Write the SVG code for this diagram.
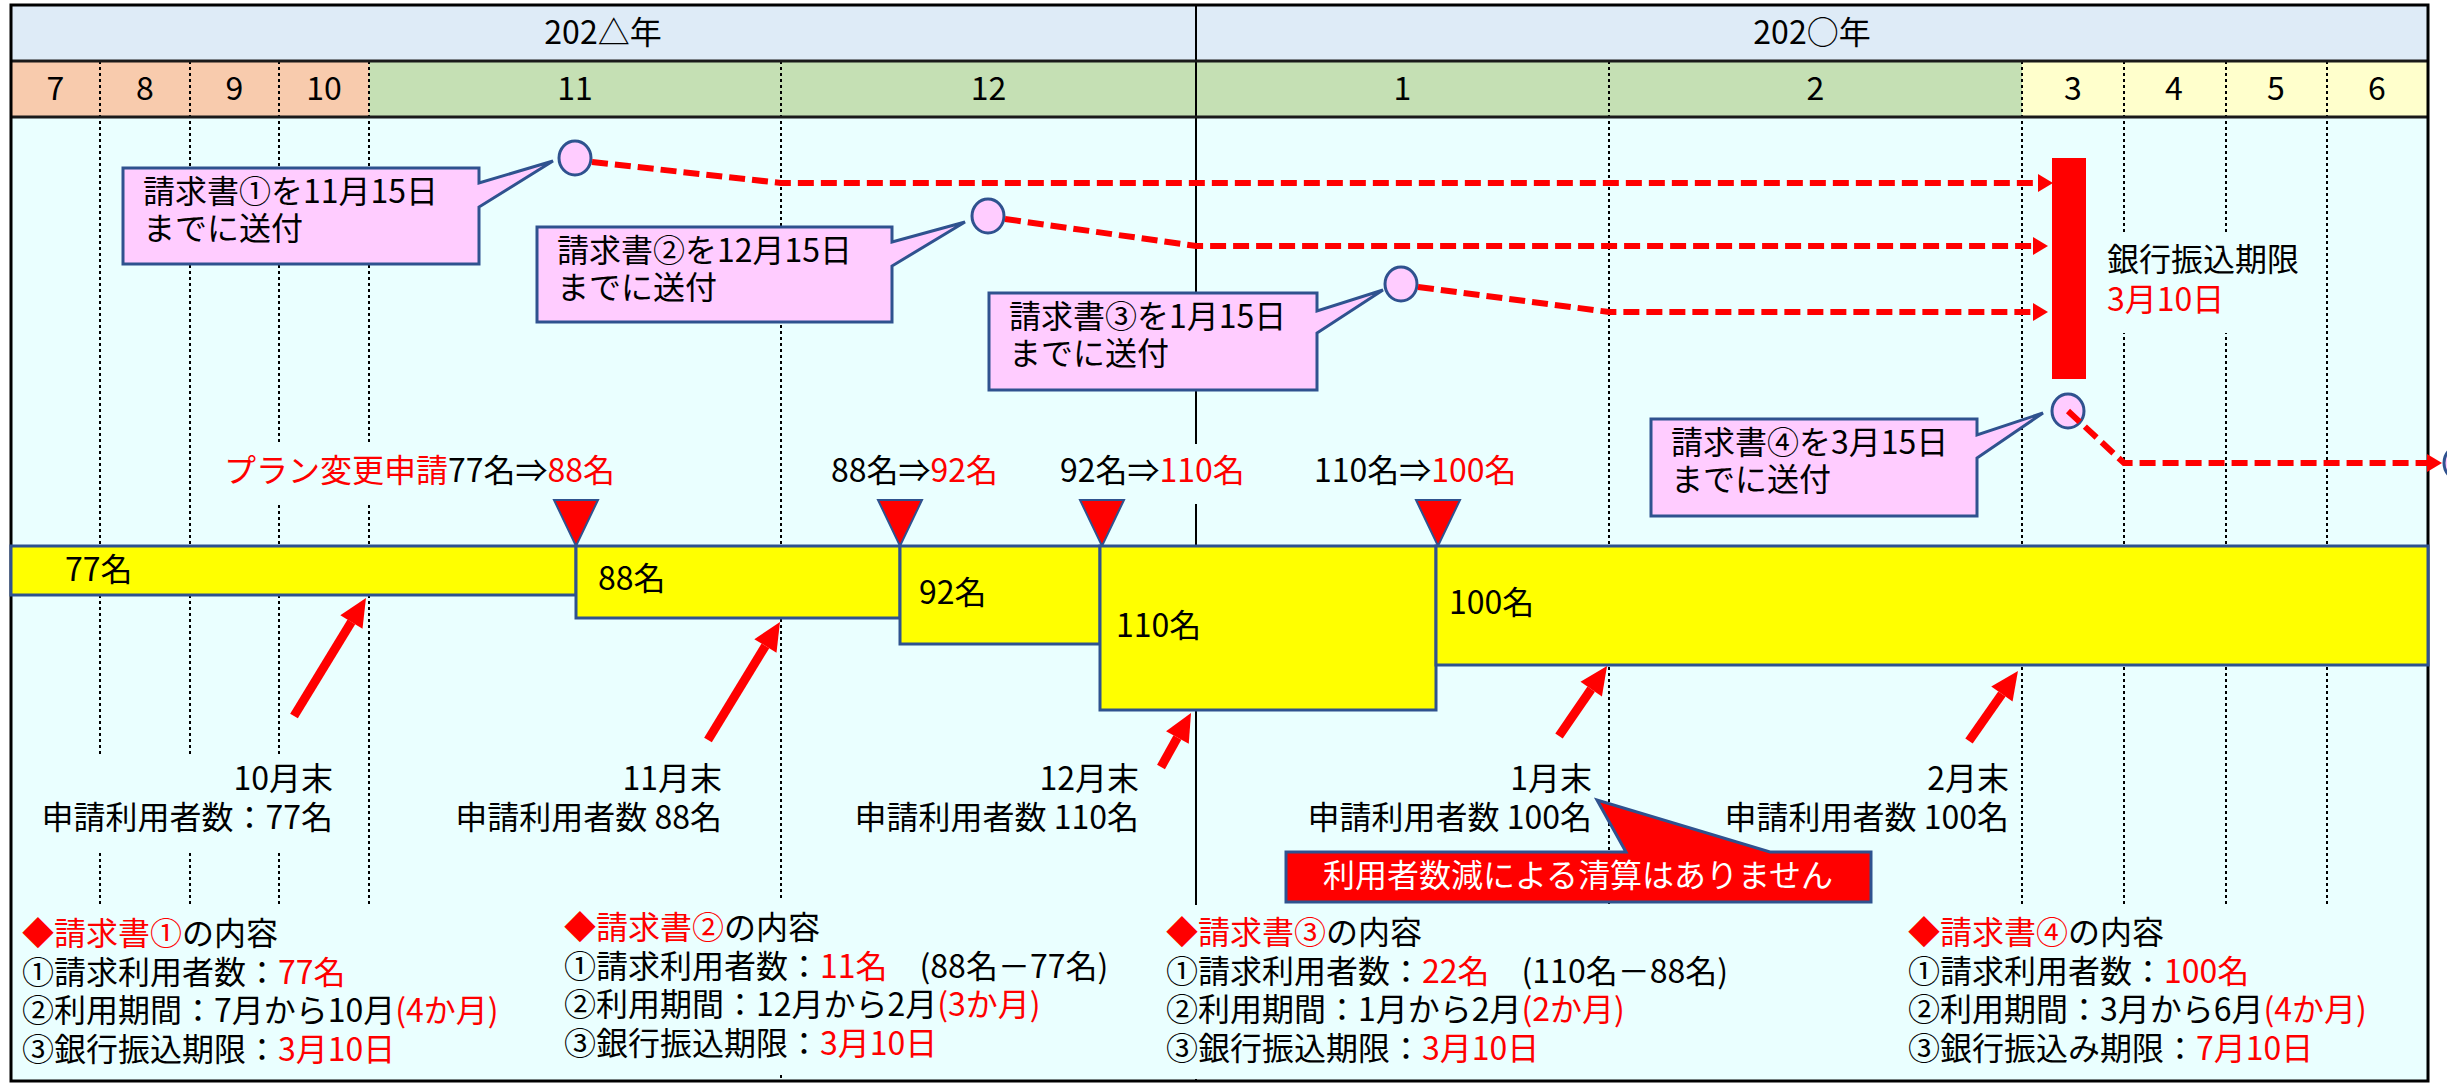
<svg xmlns="http://www.w3.org/2000/svg" width="2447" height="1083" viewBox="0 0 2447 1083">
<defs>
<style>
.t{font-family:"Noto Sans CJK JP","Noto Sans",sans-serif;font-size:32px;fill:#000}
.r{fill:#FF0000}
.w{fill:#FFFFFF}
.bg{fill:#EAFFFF}
.dot{stroke:#000;stroke-width:2;stroke-dasharray:3 3;fill:none}
.sol{stroke:#000;stroke-width:2;fill:none}
.callout{fill:#FFCCFF;stroke:#2F528F;stroke-width:3}
.circ{fill:#FFCCFF;stroke:#2F528F;stroke-width:3}
.bar{fill:#FFFF00;stroke:#2F528F;stroke-width:3}
.tri{fill:#FF0000;stroke:#2F528F;stroke-width:2}
.dash{fill:none;stroke:#FF0000;stroke-width:6;stroke-dasharray:16 7}
.arrow{fill:none;stroke:#FF0000;stroke-width:9}
.hl{stroke:#1A1A1A;stroke-width:3}
</style>
<marker id="dhead" markerUnits="userSpaceOnUse" markerWidth="16" markerHeight="18" refX="0" refY="9" orient="auto" overflow="visible">
<path d="M0,0 L15,9 L0,18 Z" fill="#FF0000"/>
</marker>
<marker id="bhead" markerUnits="userSpaceOnUse" markerWidth="30" markerHeight="26" refX="0" refY="13" orient="auto" overflow="visible">
<path d="M0,0 L28,13 L0,26 Z" fill="#FF0000"/>
</marker>
</defs>

<g id="header">
<rect x="11" y="5" width="2417" height="56" fill="#DEEBF7"/>
<rect x="11" y="61" width="358" height="56" fill="#F8CBAD"/>
<rect x="369" y="61" width="1653" height="56" fill="#C5E0B4"/>
<rect x="2022" y="61" width="406" height="56" fill="#FFFFCC"/>
<text class="t" x="603" y="44" text-anchor="middle">202△年</text>
<text class="t" x="1812" y="44" text-anchor="middle">202○年</text>
<g text-anchor="middle">
<text class="t" x="55.5" y="100">7</text>
<text class="t" x="145" y="100">8</text>
<text class="t" x="234.5" y="100">9</text>
<text class="t" x="324" y="100">10</text>
<text class="t" x="575" y="100">11</text>
<text class="t" x="988.5" y="100">12</text>
<text class="t" x="1402.5" y="100">1</text>
<text class="t" x="1815.5" y="100">2</text>
<text class="t" x="2073" y="100">3</text>
<text class="t" x="2174" y="100">4</text>
<text class="t" x="2276" y="100">5</text>
<text class="t" x="2377" y="100">6</text>
</g>
</g>

<rect id="body" x="11" y="117" width="2417" height="964" class="bg"/>

<g id="month-lines">
<line class="dot" x1="100" y1="61" x2="100" y2="1081"/>
<line class="dot" x1="190" y1="61" x2="190" y2="1081"/>
<line class="dot" x1="279" y1="61" x2="279" y2="1081"/>
<line class="dot" x1="369" y1="61" x2="369" y2="1081"/>
<line class="dot" x1="781" y1="61" x2="781" y2="1081"/>
<line class="sol" x1="1196" y1="5" x2="1196" y2="1081"/>
<line class="dot" x1="1609" y1="61" x2="1609" y2="1081"/>
<line class="dot" x1="2022" y1="61" x2="2022" y2="1081"/>
<line class="dot" x1="2124" y1="61" x2="2124" y2="1081"/>
<line class="dot" x1="2226" y1="61" x2="2226" y2="1081"/>
<line class="dot" x1="2327" y1="61" x2="2327" y2="1081"/>
</g>

<g id="frame">
<line class="hl" x1="11" y1="61" x2="2428" y2="61"/>
<line class="hl" x1="11" y1="117" x2="2428" y2="117"/>
<rect x="11" y="5" width="2417" height="1076" fill="none" stroke="#000" stroke-width="3"/>
</g>

<g id="change-labels">
<rect class="bg" x="215" y="444" width="415" height="60"/>
<text class="t" x="224" y="482"><tspan class="r">プラン変更申請</tspan>77名⇒<tspan class="r">88名</tspan></text>
<rect class="bg" x="822" y="444" width="192" height="60"/>
<text class="t" x="831" y="482">88名⇒<tspan class="r">92名</tspan></text>
<rect class="bg" x="1052" y="444" width="210" height="60"/>
<text class="t" x="1060" y="482">92名⇒<tspan class="r">110名</tspan></text>
<text class="t" x="1314" y="482">110名⇒<tspan class="r">100名</tspan></text>
</g>

<g id="triangles">
<polygon class="tri" points="554,500 598,500 576,546"/>
<polygon class="tri" points="878,500 922,500 900,546"/>
<polygon class="tri" points="1080,500 1124,500 1102,546"/>
<polygon class="tri" points="1416,500 1460,500 1438,546"/>
</g>

<g id="bars">
<g id="bar-77"><rect class="bar" x="11" y="546" width="565" height="49"/><text class="t" x="65" y="581">77名</text></g>
<g id="bar-88"><rect class="bar" x="576" y="546" width="324" height="72"/><text class="t" x="598" y="590">88名</text></g>
<g id="bar-92"><rect class="bar" x="900" y="546" width="200" height="98"/><text class="t" x="919" y="604">92名</text></g>
<g id="bar-110"><rect class="bar" x="1100" y="546" width="336" height="164"/><text class="t" x="1116" y="637">110名</text></g>
<g id="bar-100"><rect class="bar" x="1436" y="546" width="992" height="119"/><text class="t" x="1449" y="614">100名</text></g>
</g>

<g id="month-end-labels" text-anchor="end">
<rect class="bg" x="35" y="755" width="310" height="95"/>
<text class="t" x="333" y="790">10月末<tspan x="333" dy="39">申請利用者数：77名</tspan></text>
<text class="t" x="722" y="790">11月末<tspan x="722" dy="39">申請利用者数 88名</tspan></text>
<text class="t" x="1139" y="790">12月末<tspan x="1139" dy="39">申請利用者数 110名</tspan></text>
<text class="t" x="1592" y="790">1月末<tspan x="1592" dy="39">申請利用者数 100名</tspan></text>
<text class="t" x="2009" y="790">2月末<tspan x="2009" dy="39">申請利用者数 100名</tspan></text>
</g>

<g id="deadline">
<rect x="2052" y="158" width="34" height="221" fill="#FF0000"/>
<rect class="bg" x="2100" y="233" width="215" height="100"/>
<text class="t" x="2107" y="271">銀行振込期限<tspan class="r" x="2107" dy="40">3月10日</tspan></text>
</g>

<g id="callout-1">
<path class="callout" d="M123,168 H479 V183 L553,161 L479,207 V264 H123 Z"/>
<text class="t" x="143" y="203">請求書①を11月15日<tspan x="143" dy="37">までに送付</tspan></text>
<ellipse class="circ" cx="575" cy="158" rx="16" ry="17"/>
</g>
<g id="callout-2">
<path class="callout" d="M537,227 H892 V242 L965,222 L892,266 V322 H537 Z"/>
<text class="t" x="557" y="262">請求書②を12月15日<tspan x="557" dy="37">までに送付</tspan></text>
<ellipse class="circ" cx="988" cy="216" rx="16" ry="17"/>
</g>
<g id="callout-3">
<path class="callout" d="M989,293 H1317 V311 L1383,290 L1317,333 V390 H989 Z"/>
<text class="t" x="1009" y="328">請求書③を1月15日<tspan x="1009" dy="37">までに送付</tspan></text>
<ellipse class="circ" cx="1401" cy="284" rx="16" ry="17"/>
</g>
<g id="callout-4">
<path class="callout" d="M1651,419 H1977 V435 L2043,413 L1977,458 V516 H1651 Z"/>
<text class="t" x="1671" y="454">請求書④を3月15日<tspan x="1671" dy="37">までに送付</tspan></text>
<ellipse class="circ" cx="2068" cy="411" rx="16" ry="17"/>
</g>
<g id="next-circle">
<ellipse class="circ" cx="2460" cy="463" rx="16" ry="17"/>
</g>

<g id="note">
<path d="M1286,852 H1626 L1597,800 L1770,852 H1871 V902 H1286 Z" fill="#FF0000" stroke="#2F528F" stroke-width="3"/>
<text class="t w" x="1578" y="887" text-anchor="middle">利用者数減による清算はありません</text>
</g>

<g id="content-1">
<rect class="bg" x="15" y="905" width="505" height="174"/>
<text class="t" x="22" y="945"><tspan class="r">◆請求書①</tspan>の内容<tspan x="22" dy="38.5">①請求利用者数：<tspan class="r">77名</tspan></tspan><tspan x="22" dy="38.5">②利用期間：7月から10月<tspan class="r">(4か月)</tspan></tspan><tspan x="22" dy="38.5">③銀行振込期限：<tspan class="r">3月10日</tspan></tspan></text>
</g>
<g id="content-2">
<rect class="bg" x="555" y="900" width="590" height="175"/>
<text class="t" x="564" y="939"><tspan class="r">◆請求書②</tspan>の内容<tspan x="564" dy="38.5">①請求利用者数：<tspan class="r">11名</tspan>　(88名－77名)</tspan><tspan x="564" dy="38.5">②利用期間：12月から2月<tspan class="r">(3か月)</tspan></tspan><tspan x="564" dy="38.5">③銀行振込期限：<tspan class="r">3月10日</tspan></tspan></text>
</g>
<g id="content-3">
<rect class="bg" x="1160" y="905" width="600" height="174"/>
<text class="t" x="1166" y="944"><tspan class="r">◆請求書③</tspan>の内容<tspan x="1166" dy="38.5">①請求利用者数：<tspan class="r">22名</tspan>　(110名－88名)</tspan><tspan x="1166" dy="38.5">②利用期間：1月から2月<tspan class="r">(2か月)</tspan></tspan><tspan x="1166" dy="38.5">③銀行振込期限：<tspan class="r">3月10日</tspan></tspan></text>
</g>
<g id="content-4">
<rect class="bg" x="1900" y="905" width="500" height="174"/>
<text class="t" x="1908" y="944"><tspan class="r">◆請求書④</tspan>の内容<tspan x="1908" dy="38.5">①請求利用者数：<tspan class="r">100名</tspan></tspan><tspan x="1908" dy="38.5">②利用期間：3月から6月<tspan class="r">(4か月)</tspan></tspan><tspan x="1908" dy="38.5">③銀行振込み期限：<tspan class="r">7月10日</tspan></tspan></text>
</g>

<g id="connectors">
<path class="dash" d="M592,162 L781,183 H2038" marker-end="url(#dhead)"/>
<path class="dash" d="M1005,219 L1196,246 H2033" marker-end="url(#dhead)"/>
<path class="dash" d="M1418,287 L1609,312 H2033" marker-end="url(#dhead)"/>
<path class="dash" d="M2068,411 L2124,463 H2427" marker-end="url(#dhead)"/>
<line class="arrow" x1="294" y1="716" x2="351.4" y2="621.9" marker-end="url(#bhead)"/>
<line class="arrow" x1="708" y1="740" x2="765.4" y2="645.9" marker-end="url(#bhead)"/>
<line class="arrow" x1="1161" y1="767" x2="1177.4" y2="737.5" marker-end="url(#bhead)"/>
<line class="arrow" x1="1559" y1="736" x2="1591.2" y2="689.1" marker-end="url(#bhead)"/>
<line class="arrow" x1="1969" y1="741" x2="2001.9" y2="694" marker-end="url(#bhead)"/>
</g>
</svg>
